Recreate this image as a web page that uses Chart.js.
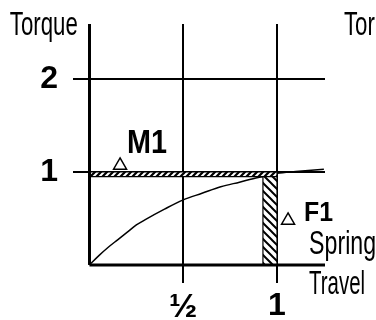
<!DOCTYPE html>
<html><head><meta charset="utf-8">
<script src="https://cdn.jsdelivr.net/npm/chart.js@4"></script>
<style>html,body{margin:0;padding:0;background:#fff}#wrap{width:376px;height:320px;position:relative}</style>
</head><body><div id="wrap"><canvas id="c"></canvas></div>
<script>
// ---- data ----
const travel       = [0, 0.05, 0.1, 0.15, 0.2, 0.25, 0.3, 0.4, 0.5, 0.6, 0.7, 0.8, 0.9, 0.925, 1.0, 1.1, 1.25];
const springTorque = [0, 0.10, 0.19, 0.27, 0.35, 0.43, 0.49, 0.60, 0.70, 0.77, 0.84, 0.89, 0.94, 0.95, 0.985, 1.005, 1.03];
const xTicks = [0.5, 1];
const xTickLabels = ['½', '1'];
const yTicks = [1, 2];
const yTickLabels = ['1', '2'];
const m1Band = [0, 1, 0.95, 1];      // x0, x1, y0, y1
const f1Band = [0.925, 1, 0, 1];     // x0, x1, y0, y1
const markerX = [0.163, 1.059];
const markerY = [1.07, 0.478];
const noteTexts = ['Torque', 'Tor', 'M1', 'F1', 'Spring', 'Travel'];

// ---- layout / style config ----
const FAM = "'Liberation Sans',Arial,sans-serif";
const X_MIN = -0.088, X_MAX = 1.256, Y_MIN = -0.194, Y_MAX = 2.59;
const notePos = [
  {x:-0.425, y:2.473, w:68, size:33, bold:false},
  {x:1.357,  y:2.473, sameAs:0, size:33, bold:false},
  {x:0.200,  y:1.204, w:40, size:34, bold:true},
  {x:1.144,  y:0.473, w:29, size:28, bold:true},
  {x:1.171,  y:0.118, w:67, size:33, bold:false},
  {x:1.171,  y:-0.312, w:56, size:33, bold:false}
];

function hatch(size, bg, fg, lw) {
  const c = document.createElement('canvas');
  c.width = size; c.height = size;
  const g = c.getContext('2d');
  g.fillStyle = bg; g.fillRect(0, 0, size, size);
  g.strokeStyle = fg; g.lineWidth = lw; g.lineCap = 'square';
  g.beginPath();
  g.moveTo(-1, -1); g.lineTo(size + 1, size + 1);
  g.moveTo(-1, size - 1); g.lineTo(1, size + 1);
  g.moveTo(size - 1, -1); g.lineTo(size + 1, 1);
  g.stroke();
  return g.createPattern(c, 'repeat');
}
function hatchSlash(size, bg, fg, lw) {
  const c = document.createElement('canvas');
  c.width = size; c.height = size;
  const g = c.getContext('2d');
  g.fillStyle = bg; g.fillRect(0, 0, size, size);
  g.strokeStyle = fg; g.lineWidth = lw;
  g.beginPath();
  g.moveTo(-1, size + 1); g.lineTo(size + 1, -1);
  g.moveTo(-1, 1); g.lineTo(1, -1);
  g.moveTo(size - 1, size + 1); g.lineTo(size + 1, size - 1);
  g.stroke();
  return g.createPattern(c, 'repeat');
}
const patV = hatch(8, '#fff', '#000', 2);
const patH = hatchSlash(6, '#000', '#fff', 2);

function rect(b) {
  return [{x:b[0], y:b[3]}, {x:b[1], y:b[3]}, {x:b[1], y:b[2]}, {x:b[0], y:b[2]}, {x:b[0], y:b[3]}];
}
const curve = travel.map((t, i) => ({x:t, y:springTorque[i]}));
const markers = markerX.map((x, i) => ({x, y:markerY[i]}));

const notesPlugin = {
  id: 'notes',
  afterDatasetsDraw(chart) {
    const {ctx, scales} = chart;
    const fontOf = n => (n.bold ? 'bold ' : '') + n.size + 'px ' + FAM;
    const scaleOf = i => {
      const n = notePos[i];
      ctx.font = fontOf(n);
      return n.w / ctx.measureText(noteTexts[i]).width;
    };
    noteTexts.forEach((t, i) => {
      const n = notePos[i];
      ctx.save();
      const sx = (n.sameAs !== undefined) ? scaleOf(n.sameAs) : scaleOf(i);
      ctx.font = fontOf(n);
      ctx.translate(scales.x.getPixelForValue(n.x), scales.y.getPixelForValue(n.y));
      ctx.scale(sx, 1);
      ctx.textBaseline = 'alphabetic';
      ctx.textAlign = 'left';
      ctx.fillStyle = '#000';
      ctx.fillText(t, 0, 0);
      ctx.restore();
    });
  }
};

new Chart(document.getElementById('c'), {
  type: 'line',
  data: {
    datasets: [
      {data:[{x:0,y:0},{x:0,y:Y_MAX}], borderColor:'#000', borderWidth:3, pointRadius:0, fill:false, order:0},
      {data:[{x:0,y:0},{x:X_MAX,y:0}], borderColor:'#000', borderWidth:3, pointRadius:0, fill:false, order:0},
      {data:markers, showLine:false, pointStyle:'triangle', pointRadius:7.5, pointBackgroundColor:'#fff', pointBorderColor:'#000', pointBorderWidth:1.5, order:1},
      {data:rect(m1Band), borderColor:'#000', borderWidth:1.2, backgroundColor:patH, fill:'shape', pointRadius:0, tension:0, order:2},
      {data:rect(f1Band), borderColor:'#000', borderWidth:1.2, backgroundColor:patV, fill:'shape', pointRadius:0, tension:0, order:2},
      {data:curve, borderColor:'#000', borderWidth:1.5, pointRadius:0, fill:false, cubicInterpolationMode:'monotone', order:3}
    ]
  },
  options: {
    responsive: true, maintainAspectRatio: false, animation: false,
    devicePixelRatio: 1,
    layout: {padding: {left:13, right:51, top:24, bottom:0}},
    plugins: {legend:{display:false}, tooltip:{enabled:false}},
    scales: {
      x: {
        type:'linear', min:X_MIN, max:X_MAX,
        afterBuildTicks: s => { s.ticks = xTicks.map(v => ({value:v})); },
        afterFit: s => { s.height = 37; s.paddingLeft = 0; s.paddingRight = 0; },
        grid: {color:'#000', lineWidth:2, drawTicks:false},
        border: {display:false},
        ticks: {
          autoSkip:false, maxRotation:0, padding:4, color:'#000',
          callback: (v, i) => xTickLabels[i],
          font: c => (c.tick && c.tick.value === 0.5)
            ? {family:FAM, size:34, weight:'bold'}
            : {family:FAM, size:32, weight:'bold'}
        }
      },
      y: {
        type:'linear', min:Y_MIN, max:Y_MAX,
        afterBuildTicks: s => { s.ticks = yTicks.map(v => ({value:v})); },
        afterFit: s => { s.width = 60; s.paddingTop = 0; s.paddingBottom = 0; },
        grid: {color:'#000', lineWidth:2, drawTicks:false},
        border: {display:false},
        ticks: {
          autoSkip:false, padding:15, color:'#000',
          callback: (v, i) => yTickLabels[i],
          font: {family:FAM, size:32, weight:'bold'}
        }
      }
    }
  },
  plugins: [notesPlugin]
});
</script>
</body></html>
